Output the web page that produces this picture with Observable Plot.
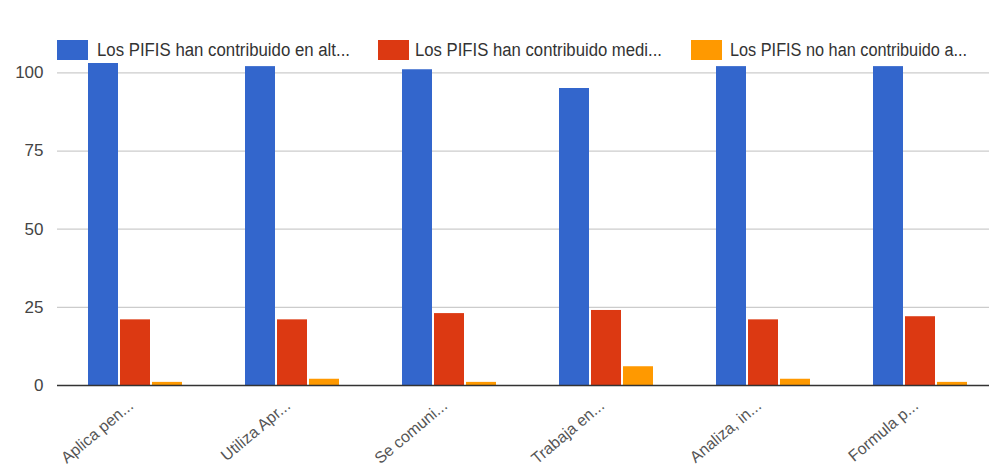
<!DOCTYPE html>
<html>
<head>
<meta charset="utf-8">
<script src="https://cdn.jsdelivr.net/npm/d3@7"></script>
<script src="https://cdn.jsdelivr.net/npm/@observablehq/plot@0.6"></script>
<style>
html, body { margin: 0; padding: 0; background: #fff; overflow: hidden; width: 989px; height: 475px; }
#wrap { position: relative; width: 989px; height: 475px; overflow: hidden; }
#chart { position: absolute; left: 0; top: 0; width: 999px; }
#chart svg { max-width: none !important; overflow: visible; }
#legend { position: absolute; left: 0; top: 0; width: 989px; height: 70px; pointer-events: none; }
.item { position: absolute; top: 40px; height: 20px; display: flex; align-items: center; white-space: nowrap; }
.sw { width: 31px; height: 20px; display: inline-block; }
.lbl { position: absolute; white-space: nowrap; font-family: "Liberation Sans", Arial, sans-serif; font-size: 18px; line-height: 22px; color: #333; transform-origin: 0 50%; }
</style>
</head>
<body>
<div id="wrap"><div id="chart"></div><div id="legend"></div></div>
<script>
// ---- data ----
const categories = ["Aplica pen...", "Utiliza Apr...", "Se comuni...", "Trabaja en...", "Analiza, in...", "Formula p..."];
const seriesNames = [
  "Los PIFIS han contribuido en alt...",
  "Los PIFIS han contribuido medi...",
  "Los PIFIS no han contribuido a..."
];
const altoValues   = [103, 102, 101, 95, 102, 102];
const medioValues  = [21, 21, 23, 24, 21, 22];
const nadaValues   = [1, 2, 1, 6, 2, 1];
const yTicks = [0, 25, 50, 75, 100];
const seriesColors = ["#3366cc", "#dc3912", "#ff9900"];

const seriesValues = [altoValues, medioValues, nadaValues];
const rows = [];
categories.forEach((c, i) => {
  seriesNames.forEach((s, j) => rows.push({category: c, series: s, value: seriesValues[j][i]}));
});

const chart = Plot.plot({
  width: 999,
  height: 475,
  marginLeft: 57,
  marginRight: 0,
  marginTop: 63,
  marginBottom: 90,
  style: {fontFamily: "'Liberation Sans', Arial, sans-serif", background: "#fff", maxWidth: "none"},
  fx: {domain: categories, paddingInner: 0, paddingOuter: 0, label: null, axis: null},
  x: {domain: seriesNames, paddingInner: 0.05, paddingOuter: 0.94, axis: null},
  y: {domain: [0, 103], axis: null},
  color: {domain: seriesNames, range: seriesColors},
  marks: [
    Plot.gridY(yTicks.filter(d => d > 0), {stroke: "#cccccc", strokeOpacity: 1, strokeWidth: 1.2}),
    Plot.barY(rows, {fx: "category", x: "series", y: "value", fill: "series"}),
    Plot.ruleY([0], {stroke: "#333", strokeWidth: 1.5}),
    Plot.axisY(yTicks, {tickSize: 0, tickPadding: 14, fontSize: 17, fill: "#444", label: null}),
    Plot.text(categories, {
      fx: d => d, text: d => d, frameAnchor: "bottom",
      rotate: -40, textAnchor: "end", lineAnchor: "middle",
      dx: -5, dy: 18, fontSize: 16, fill: "#555"
    })
  ]
});
chart.style.maxWidth = "none";
document.getElementById("chart").appendChild(chart);

// ---- legend ----
const legend = document.getElementById("legend");
const legendLayout = [
  {swatch: 57, text: 97, width: 253},
  {swatch: 378, text: 415, width: 247},
  {swatch: 691, text: 730, width: 237}
];
seriesNames.forEach((name, i) => {
  const sw = document.createElement("div");
  sw.className = "item";
  sw.style.left = legendLayout[i].swatch + "px";
  sw.innerHTML = `<span class="sw" style="background:${seriesColors[i]}"></span>`;
  legend.appendChild(sw);
  const t = document.createElement("span");
  t.className = "lbl";
  t.textContent = name;
  t.style.top = "39px";
  t.style.left = legendLayout[i].text + "px";
  legend.appendChild(t);
  const w = t.getBoundingClientRect().width;
  t.style.transform = `scaleX(${legendLayout[i].width / w})`;
});
</script>
</body>
</html>
